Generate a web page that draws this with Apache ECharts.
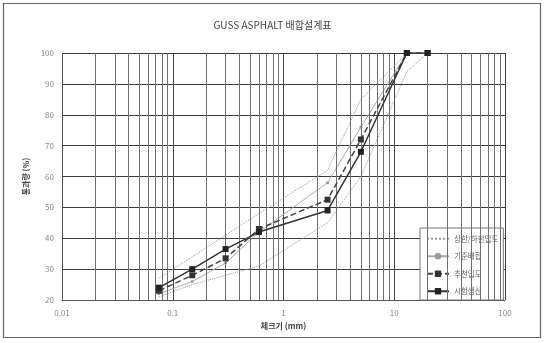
<!DOCTYPE html>
<html>
<head>
<meta charset="utf-8">
<script src="https://cdn.jsdelivr.net/npm/echarts@6/dist/echarts.min.js"></script>
<style>
  html, body { margin: 0; padding: 0; background: #fff; }
  #chart { width: 545px; height: 343px; }
</style>
</head>
<body>
<div id="chart"></div>
<script>
// Sieve sizes (mm) and passing percentages
const sieves = [0.075, 0.15, 0.3, 0.6, 2.5, 5, 13, 20];
const upperBound = [27, 34, 41, 48, 62, 85, 100, 100];
const lowerBound = [21, 25, 28, 31, 45, 60, 94, 100];
const baseMix = [22, 26, 32, 42, 58, 76, 100, 100];
const recommended = [23, 28, 33.5, 43, 52.5, 72, 100, 100];
const trialProduction = [24, 30, 36.5, 42, 49, 68, 100, 100];

// Axis ticks
const xTicks = [0.01, 0.1, 1, 10, 100];
const yMin = 20, yMax = 100, yStep = 10;

// Intermediate log grid lines (2..9 within each decade)
const minorX = [];
for (let d = 0; d < 4; d++) {
  for (let k = 2; k <= 9; k++) minorX.push(+(xTicks[d] * k).toPrecision(3));
}

const pair = arr => sieves.map((s, i) => [s, arr[i]]);
const font = '"Noto Sans CJK KR", "Noto Sans", sans-serif';
const boundName = '상한/하한입도';

const chart = echarts.init(document.getElementById('chart'), null, { renderer: 'canvas' });
chart.setOption({
  animation: false,
  backgroundColor: '#fff',
  title: {
    text: 'GUSS ASPHALT 배합설계표',
    left: 'center',
    top: 15,
    textStyle: { fontFamily: font, fontSize: 10, fontWeight: 'normal', color: '#444' }
  },
  grid: { left: 62, right: 40, top: 53, bottom: 43 },
  xAxis: {
    type: 'log',
    logBase: 10,
    min: 0.01,
    max: 100,
    name: '체크기 (mm)',
    nameLocation: 'middle',
    nameGap: 22,
    nameTextStyle: { fontFamily: font, fontSize: 8, fontWeight: 'bold', color: '#444' },
    axisLine: { show: true, lineStyle: { color: '#555', width: 1 } },
    axisTick: { show: false },
    axisLabel: {
      fontFamily: font, fontSize: 8, color: '#888', margin: 9,
      formatter: v => String(+v.toPrecision(3))
    },
    splitLine: { show: true, lineStyle: { color: '#444', width: 1 } }
  },
  yAxis: {
    type: 'value',
    min: yMin,
    max: yMax,
    interval: yStep,
    name: '통과량 (%)',
    nameLocation: 'middle',
    nameRotate: 90,
    nameGap: 30,
    nameTextStyle: { fontFamily: font, fontSize: 8, fontWeight: 'bold', color: '#444' },
    axisLine: { show: true, lineStyle: { color: '#555', width: 1 } },
    axisTick: { show: false },
    axisLabel: { fontFamily: font, fontSize: 8, color: '#888', margin: 8 },
    splitLine: { show: true, lineStyle: { color: '#3a3a3a', width: 1 } }
  },
  legend: {
    orient: 'vertical',
    left: 420,
    top: 228,
    padding: [7, 5, 5, 6],
    itemGap: 10,
    itemWidth: 22,
    itemHeight: 8,
    backgroundColor: '#fff',
    borderColor: '#777',
    borderWidth: 1,
    borderRadius: 0,
    textStyle: { fontFamily: font, fontSize: 7.5, color: '#666' },
    data: [
      { name: boundName, itemStyle: { opacity: 0 } },
      { name: '기준배합', itemStyle: { opacity: 1 } },
      '추천입도',
      '시험생산'
    ]
  },
  graphic: [{
    type: 'rect',
    shape: { x: 3.5, y: 3.5, width: 537, height: 334 },
    style: { fill: 'none', stroke: '#666', lineWidth: 1.2 },
    silent: true
  }],
  series: [
    {
      name: 'minor-grid',
      type: 'line',
      data: [],
      silent: true,
      markLine: {
        silent: true,
        symbol: 'none',
        label: { show: false },
        lineStyle: { color: '#707070', width: 1, type: 'solid' },
        data: minorX.map(v => ({ xAxis: v }))
      }
    },
    {
      name: boundName,
      type: 'line',
      data: pair(upperBound),
      symbol: 'none',
      lineStyle: { color: '#999', width: 1, type: 'dotted' },
      itemStyle: { color: '#999' },
      z: 3
    },
    {
      name: boundName,
      type: 'line',
      data: pair(lowerBound),
      symbol: 'none',
      lineStyle: { color: '#999', width: 1, type: 'dotted' },
      itemStyle: { color: '#999' },
      z: 3
    },
    {
      name: '기준배합',
      type: 'line',
      data: pair(baseMix),
      symbol: 'circle',
      symbolSize: 3,
      lineStyle: { color: '#aaa', width: 1 },
      itemStyle: { color: '#999' },
      z: 4
    },
    {
      name: '추천입도',
      type: 'line',
      data: pair(recommended),
      symbol: 'rect',
      symbolSize: 6,
      lineStyle: { color: '#444', width: 1.5, type: [6, 3] },
      itemStyle: { color: '#333' },
      z: 5
    },
    {
      name: '시험생산',
      type: 'line',
      data: pair(trialProduction),
      symbol: 'rect',
      symbolSize: 6,
      lineStyle: { color: '#333', width: 1.5 },
      itemStyle: { color: '#222' },
      z: 6
    }
  ]
});
</script>
</body>
</html>
